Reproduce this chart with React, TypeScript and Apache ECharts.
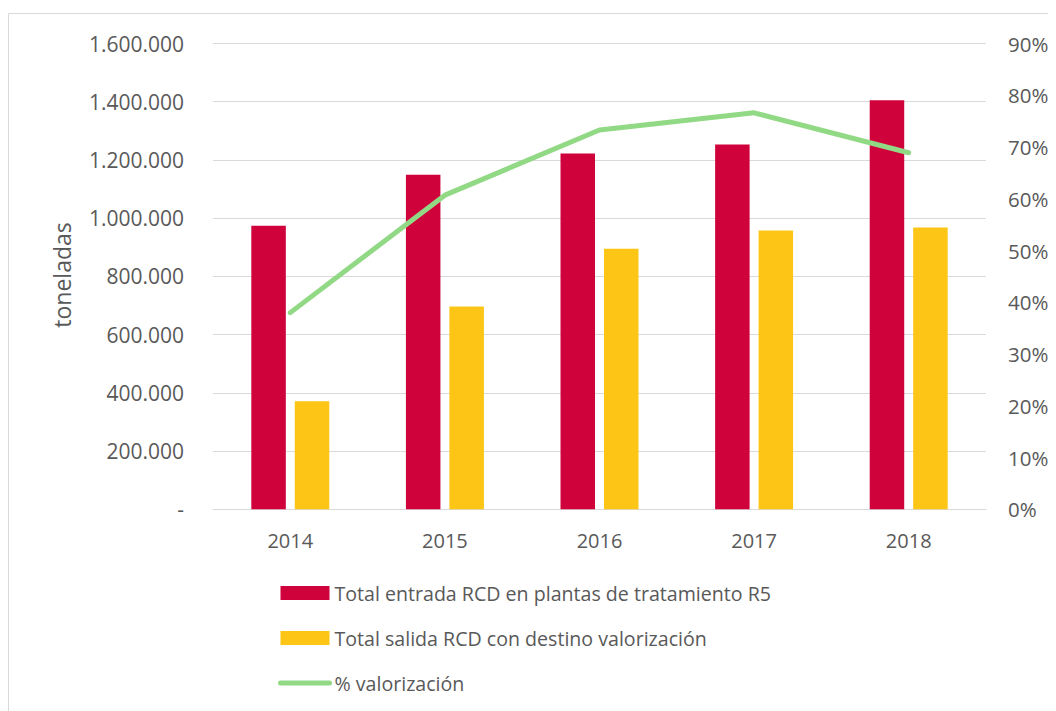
import React, { useEffect, useRef } from "react";
import * as echarts from "echarts";

const categories = ["2014", "2015", "2016", "2017", "2018"];
const entradaValues = [974000, 1149000, 1222000, 1253000, 1405000];
const salidaValues = [371000, 697000, 895000, 958000, 968000];
const valorizacionPct = [0.380, 0.607, 0.733, 0.766, 0.689];
const seriesNames = [
  "Total entrada RCD en plantas de tratamiento R5",
  "Total salida RCD con destino valorización",
  "% valorización",
];
const yAxisName = "toneladas";

const FONT = "'Open Sans', sans-serif";
const TXT = "#595959";

function fmtThousands(v: number): string {
  if (v === 0) return "-";
  return String(Math.round(v)).replace(/\B(?=(\d{3})+(?!\d))/g, ".");
}

export default function App() {
  const ref = useRef<HTMLDivElement>(null);
  useEffect(() => {
    if (!ref.current) return;
    const chart = echarts.init(ref.current, undefined, { renderer: "svg" });
    chart.setOption({
      animation: false,
      textStyle: { fontFamily: FONT },
      graphic: [
        {
          type: "rect",
          shape: { x: 0.5, y: 5.5, width: 1200, height: 900 },
          style: { fill: "none", stroke: "#d9d9d9", lineWidth: 1 },
          silent: true,
          z: -10,
        },
        {
          type: "text",
          x: 54,
          y: 267,
          rotation: Math.PI / 2,
          style: {
            text: yAxisName,
            fill: TXT,
            font: `23px ${FONT}`,
            align: "center",
            verticalAlign: "middle",
          },
        },
      ],
      grid: { left: 205, right: 70, top: 35.5, bottom: 201.7, containLabel: false },
      legend: {
        orient: "vertical",
        left: 270,
        top: 575,
        padding: 0,
        itemWidth: 49,
        itemHeight: 14,
        itemGap: 25,
        textStyle: { fontFamily: FONT, fontSize: 19.6, color: TXT },
        data: [
          { name: seriesNames[0], icon: "rect" },
          { name: seriesNames[1], icon: "rect" },
          {
            name: seriesNames[2],
            itemStyle: { color: "rgba(0,0,0,0)", opacity: 0, borderWidth: 0 },
          },
        ],
        lineStyle: { width: 5, cap: "round" },
      },
      xAxis: {
        type: "category",
        data: categories,
        axisLine: { lineStyle: { color: "#d9d9d9", width: 1 } },
        axisTick: { show: false },
        axisLabel: { color: TXT, fontSize: 20, fontFamily: FONT, margin: 21 },
      },
      yAxis: [
        {
          type: "value",
          min: 0,
          max: 1600000,
          interval: 200000,
          axisLine: { show: false },
          axisTick: { show: false },
          splitLine: { lineStyle: { color: "#d9d9d9", width: 1 } },
          axisLabel: {
            color: TXT,
            fontSize: 21,
            fontFamily: FONT,
            margin: 29,
            formatter: (v: number) => fmtThousands(v),
          },
        },
        {
          type: "value",
          min: 0,
          max: 0.9,
          interval: 0.1,
          axisLine: { show: false },
          axisTick: { show: false },
          splitLine: { show: false },
          axisLabel: {
            color: TXT,
            fontSize: 20.5,
            fontFamily: FONT,
            margin: 22,
            formatter: (v: number) => `${Math.round(v * 100)}%`,
          },
        },
      ],
      series: [
        {
          name: seriesNames[0],
          type: "bar",
          data: entradaValues,
          barWidth: 34.5,
          barGap: "26%",
          itemStyle: { color: "#d0023b" },
        },
        {
          name: seriesNames[1],
          type: "bar",
          data: salidaValues,
          barWidth: 34.5,
          barGap: "26%",
          itemStyle: { color: "#fdc515" },
        },
        {
          name: seriesNames[2],
          type: "line",
          yAxisIndex: 1,
          data: valorizacionPct,
          symbol: "none",
          lineStyle: { color: "#92d985", width: 5, cap: "round", join: "round" },
          itemStyle: { color: "#92d985" },
          z: 5,
        },
      ],
    });
    return () => chart.dispose();
  }, []);
  return <div ref={ref} style={{ width: 1048, height: 703 }} />;
}
